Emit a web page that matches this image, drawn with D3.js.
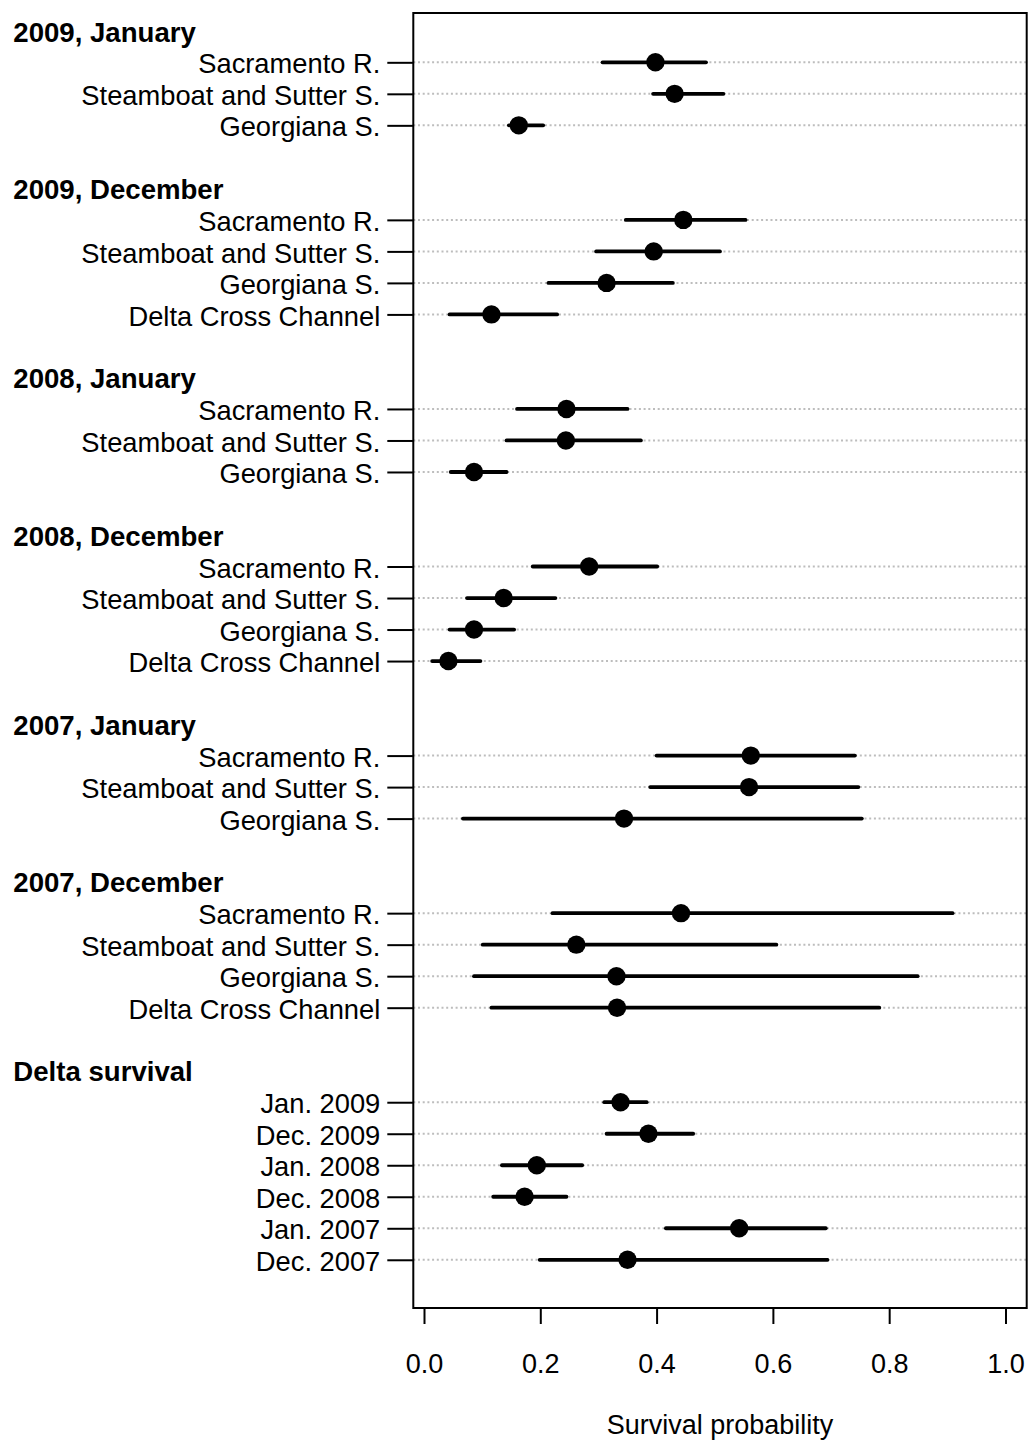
<!DOCTYPE html>
<html>
<head>
<meta charset="utf-8">
<script src="https://cdn.jsdelivr.net/npm/d3@7"></script>
<style>
  html, body { margin: 0; padding: 0; background: #fff; }
  svg { display: block; }
  text { font-family: "Liberation Sans", Arial, Helvetica, sans-serif; fill: #000; }
</style>
</head>
<body>
<script>
// ---- Data ----
const groups = ["2009, January", "2009, December", "2008, January", "2008, December",
                "2007, January", "2007, December", "Delta survival"];
const groupRows = [
  ["Sacramento R.", "Steamboat and Sutter S.", "Georgiana S."],
  ["Sacramento R.", "Steamboat and Sutter S.", "Georgiana S.", "Delta Cross Channel"],
  ["Sacramento R.", "Steamboat and Sutter S.", "Georgiana S."],
  ["Sacramento R.", "Steamboat and Sutter S.", "Georgiana S.", "Delta Cross Channel"],
  ["Sacramento R.", "Steamboat and Sutter S.", "Georgiana S."],
  ["Sacramento R.", "Steamboat and Sutter S.", "Georgiana S.", "Delta Cross Channel"],
  ["Jan. 2009", "Dec. 2009", "Jan. 2008", "Dec. 2008", "Jan. 2007", "Dec. 2007"]
];
const estimate = [
  0.398, 0.431, 0.163,
  0.446, 0.395, 0.314, 0.116,
  0.245, 0.244, 0.086,
  0.284, 0.137, 0.086, 0.042,
  0.562, 0.559, 0.344,
  0.442, 0.262, 0.331, 0.332,
  0.338, 0.386, 0.194, 0.173, 0.542, 0.350
];
const lower = [
  0.307, 0.394, 0.146,
  0.347, 0.296, 0.214, 0.044,
  0.160, 0.142, 0.046,
  0.187, 0.074, 0.044, 0.014,
  0.400, 0.389, 0.067,
  0.221, 0.101, 0.086, 0.116,
  0.310, 0.314, 0.134, 0.119, 0.416, 0.199
];
const upper = [
  0.485, 0.515, 0.205,
  0.553, 0.509, 0.428, 0.229,
  0.350, 0.373, 0.142,
  0.401, 0.226, 0.155, 0.097,
  0.741, 0.747, 0.753,
  0.909, 0.606, 0.849, 0.783,
  0.383, 0.463, 0.272, 0.245, 0.691, 0.694
];
const xTicks = [0.0, 0.2, 0.4, 0.6, 0.8, 1.0];
const xTitle = "Survival probability";

// ---- Layout: slots (header, rows, blank) ----
const headers = [];
const rows = [];
let slot = 0, k = 0;
groups.forEach((g, gi) => {
  headers.push({ label: g, slot: slot });
  slot++;
  groupRows[gi].forEach(lab => {
    rows.push({ label: lab, slot: slot, est: estimate[k], lo: lower[k], hi: upper[k] });
    slot++; k++;
  });
  slot++; // blank gap
});

const W = 1028, H = 1444;
const box = { left: 413.3, right: 1026.7, top: 13, bottom: 1308 };

const x = d3.scaleLinear().domain([-0.0184, 1.0365]).range([box.left, box.right]);
const y = d3.scaleLinear().domain([-0.565, 40.53]).range([box.top, box.bottom]);

const FS = 27.3;
const FSH = 27.6;

const svg = d3.select("body").append("svg").attr("width", W).attr("height", H);

// dotted guide lines
svg.append("g").selectAll("line").data(rows).join("line")
  .attr("x1", box.left).attr("x2", box.right)
  .attr("y1", d => y(d.slot)).attr("y2", d => y(d.slot))
  .attr("stroke", "#bdbdbd").attr("stroke-width", 2)
  .attr("stroke-dasharray", "2,2.7");

// confidence intervals
svg.append("g").selectAll("line").data(rows).join("line")
  .attr("x1", d => x(d.lo)).attr("x2", d => x(d.hi))
  .attr("y1", d => y(d.slot)).attr("y2", d => y(d.slot))
  .attr("stroke", "#000").attr("stroke-width", 3.8).attr("stroke-linecap", "round");

// points
svg.append("g").selectAll("circle").data(rows).join("circle")
  .attr("cx", d => x(d.est)).attr("cy", d => y(d.slot)).attr("r", 9.2)
  .attr("fill", "#000");

// box
svg.append("rect")
  .attr("x", box.left).attr("y", box.top)
  .attr("width", box.right - box.left).attr("height", box.bottom - box.top)
  .attr("fill", "none").attr("stroke", "#000").attr("stroke-width", 2);

// left axis (row labels)
const labelBySlot = new Map(rows.map(r => [r.slot, r.label]));
const yAxis = d3.axisLeft(y)
  .tickValues(rows.map(r => r.slot))
  .tickFormat(s => labelBySlot.get(s))
  .tickSize(26).tickPadding(7);
const gy = svg.append("g").attr("transform", `translate(${box.left},0)`).call(yAxis);
gy.select(".domain").remove();
gy.selectAll(".tick line").attr("stroke", "#000").attr("stroke-width", 2);
gy.selectAll(".tick text")
  .attr("font-family", "'Liberation Sans', Arial, sans-serif")
  .attr("font-size", FS).attr("fill", "#000").attr("dy", "0.39em");

// group headers
svg.append("g").selectAll("text").data(headers).join("text")
  .attr("x", 13.3).attr("y", d => y(d.slot)).attr("dy", "0.39em")
  .attr("font-size", FSH).attr("font-weight", "bold")
  .text(d => d.label);

// bottom axis
const xAxis = d3.axisBottom(x).tickValues(xTicks).tickFormat(d3.format(".1f"))
  .tickSize(16).tickPadding(30);
const gx = svg.append("g").attr("transform", `translate(0,${box.bottom})`).call(xAxis);
gx.select(".domain").remove();
gx.selectAll(".tick line").attr("stroke", "#000").attr("stroke-width", 2);
gx.selectAll(".tick text")
  .attr("font-family", "'Liberation Sans', Arial, sans-serif")
  .attr("font-size", 27).attr("fill", "#000");

// axis title
svg.append("text")
  .attr("x", 720).attr("y", 1434)
  .attr("text-anchor", "middle").attr("font-size", 27)
  .text(xTitle);
</script>
</body>
</html>
